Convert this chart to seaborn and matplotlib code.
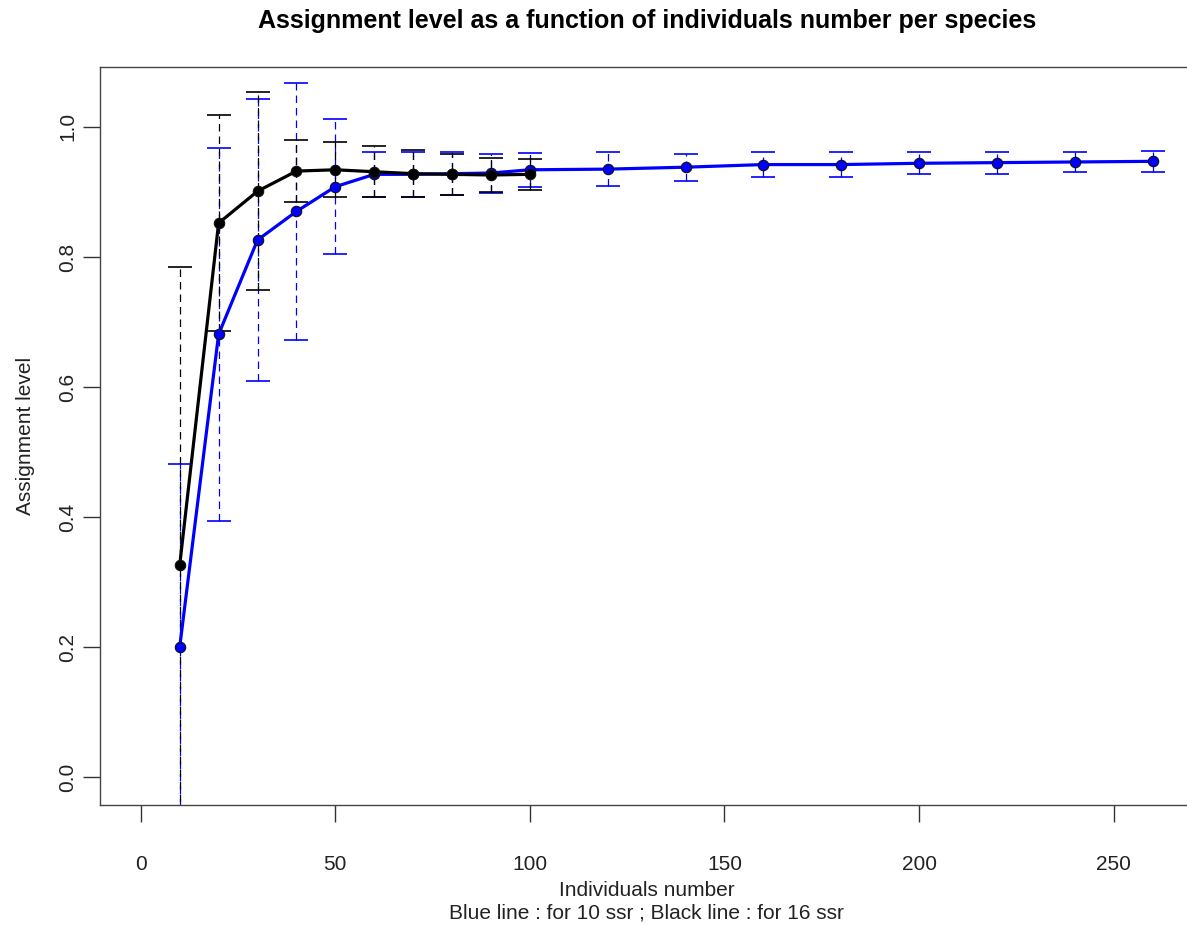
import matplotlib
matplotlib.use("Agg")
import matplotlib.pyplot as plt
import seaborn as sns
import pandas as pd

# 10 ssr (blue line)
x_10ssr = [10, 20, 30, 40, 50, 60, 70, 80, 90, 100, 120, 140, 160, 180, 200, 220, 240, 260]
mean_10ssr = [0.200, 0.681, 0.826, 0.870, 0.908, 0.927, 0.927, 0.928, 0.929, 0.934,
              0.935, 0.938, 0.942, 0.942, 0.944, 0.945, 0.946, 0.947]
sd_10ssr = [0.282, 0.287, 0.217, 0.197, 0.104, 0.035, 0.035, 0.033, 0.030, 0.026,
            0.026, 0.021, 0.019, 0.019, 0.017, 0.017, 0.015, 0.016]

# 16 ssr (black line)
x_16ssr = [10, 20, 30, 40, 50, 60, 70, 80, 90, 100]
mean_16ssr = [0.326, 0.852, 0.901, 0.932, 0.934, 0.931, 0.928, 0.927, 0.926, 0.927]
sd_16ssr = [0.459, 0.166, 0.152, 0.048, 0.042, 0.039, 0.036, 0.032, 0.026, 0.024]

x_ticks = [0, 50, 100, 150, 200, 250]
y_ticks = [0.0, 0.2, 0.4, 0.6, 0.8, 1.0]

sns.set_style("white")
plt.rcParams['font.family'] = ['Liberation Sans', 'DejaVu Sans']

fig = plt.figure(figsize=(11.87, 9.25), dpi=100)
W, H = 1187, 925
ax = fig.add_axes([100.3 / W, 1 - 804.7 / H, (1193 - 100.3) / W, (804.7 - 67) / H])

series = [
    (x_10ssr, mean_10ssr, sd_10ssr, "#0000FF"),
    (x_16ssr, mean_16ssr, sd_16ssr, "#000000"),
]

for xs, ms, sds, col in series:
    # dashed error bars with solid caps
    eb = ax.errorbar(xs, ms, yerr=sds, fmt='none', ecolor=col, elinewidth=0.9,
                     capsize=8.5, capthick=1.2, zorder=2)
    for lc in eb[2]:
        lc.set_linestyle((0, (6, 4)))
    df = pd.DataFrame({"n": xs, "level": ms})
    sns.lineplot(data=df, x="n", y="level", ax=ax, color=col, linewidth=2.3,
                 marker="o", markersize=7.5, markerfacecolor=col,
                 markeredgecolor="#101010", markeredgewidth=0.8,
                 errorbar=None, zorder=3)

ax.set_xlim(-10.4, 270.4)
ax.set_ylim(-0.042, 1.092)
ax.set_xticks(x_ticks)
ax.set_yticks(y_ticks)
ax.set_yticklabels([f"{v:.1f}" for v in y_ticks], rotation=90, va="center")
ax.tick_params(axis='both', length=12, width=1.0, color='#333333',
               labelsize=15, labelcolor='#222222', left=True, bottom=True)
ax.tick_params(axis='x', pad=24)
ax.tick_params(axis='y', pad=4.5)

for sp in ax.spines.values():
    sp.set_color('#444444')
    sp.set_linewidth(1.0)

ax.set_title("Assignment level as a function of individuals number per species",
             fontsize=18, fontweight='bold', color='black', pad=28)
ax.set_xlabel("Individuals number\nBlue line : for 10 ssr ; Black line : for 16 ssr",
              fontsize=15, color='#222222', linespacing=1.2)
ax.xaxis.set_label_coords(0.5, (804.7 - 902) / (804.7 - 67))
ax.xaxis.label.set_va('center')
ax.set_ylabel("Assignment level", fontsize=15, color='#222222')
ax.yaxis.set_label_coords((26 - 100.3) / (1193 - 100.3), 0.5)
ax.yaxis.label.set_va('center')

fig.savefig("out.png", dpi=100)
